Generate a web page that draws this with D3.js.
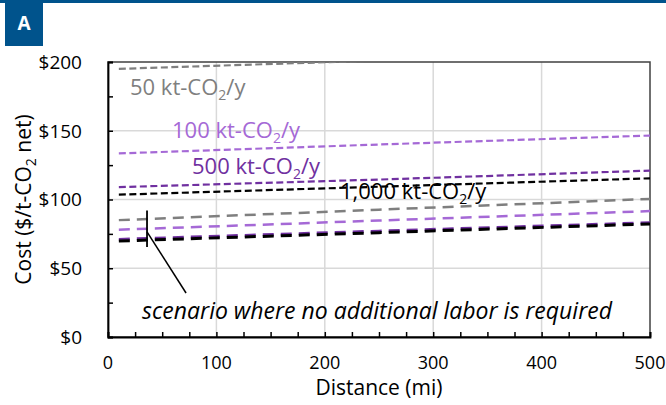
<!DOCTYPE html>
<html>
<head>
<meta charset="utf-8">
<script src="https://cdn.jsdelivr.net/npm/d3@7"></script>
<style>
  body { margin: 0; background: #fff; }
  text { font-family: "Open Sans", sans-serif; }
</style>
</head>
<body>
<script>
var distance = [10, 250, 500];

// cost ($/t-CO2 net), base case (upper group)
var base50 = [195, 201.1, 207.5];
var base100 = [133.5, 140, 146.5];
var base500 = [109, 114.5, 121];
var base1000 = [103.5, 109.3, 115.4];

// cost when no additional labor is needed (lower group)
var noLabor50 = [85, 92.6, 100.4];
var noLabor100 = [78, 84.7, 91.6];
var noLabor500 = [71, 77, 83.1];
var noLabor1000 = [69.8, 75.9, 82.2];

var capacities = ["50", "100", "500", "1,000"];
var yTicks = [0, 50, 100, 150, 200];
var xTicks = [0, 100, 200, 300, 400, 500];

// annotation marker (mi, $)
var markerX = 36;
var markerSpan = [65.5, 92];
var leaderFrom = [36, 76.5];
var leaderTo = [72, 32];

var w = 666, h = 405;
var margin = {left: 108, right: 16, top: 62, bottom: 68};
var width = w - margin.left - margin.right;
var height = h - margin.top - margin.bottom;

var colors = {"50": "#7f7f7f", "100": "#a569d6", "500": "#7030a0", "1,000": "#000000"};

var svg = d3.select("body").append("svg")
    .attr("width", w)
    .attr("height", h);

// blue banner with the panel letter
svg.append("rect").attr("x", 0).attr("y", 0).attr("width", w).attr("height", 3).attr("fill", "#00538c");
svg.append("rect").attr("x", 5).attr("y", 0).attr("width", 38).attr("height", 46).attr("fill", "#00538c");
svg.append("text").attr("x", 24).attr("y", 29.5)
    .attr("text-anchor", "middle").attr("fill", "#fff")
    .style("font-size", "19px").style("font-weight", "bold")
    .text("A");

var g = svg.append("g").attr("transform", "translate(" + margin.left + "," + margin.top + ")");

var x = d3.scaleLinear().domain([0, 500]).range([0, width]);
var y = d3.scaleLinear().domain([0, 200]).range([height, 0]);

// gridlines
g.append("g").selectAll("line")
    .data([50, 100, 150])
    .enter().append("line")
    .attr("x1", 0).attr("x2", width)
    .attr("y1", d => y(d)).attr("y2", d => y(d))
    .attr("stroke", "#d9d9d9").attr("stroke-width", 1.5);
g.append("g").selectAll("line")
    .data([100, 200, 300, 400])
    .enter().append("line")
    .attr("y1", 0).attr("y2", height)
    .attr("x1", d => x(d)).attr("x2", d => x(d))
    .attr("stroke", "#d9d9d9").attr("stroke-width", 1.5);

// plot border (top / right)
g.append("rect").attr("width", width).attr("height", height)
    .attr("fill", "none").attr("stroke", "#404040").attr("stroke-width", 1.5);

g.append("defs").append("clipPath").attr("id", "plotClip")
    .append("rect").attr("width", width).attr("height", height);

var line = d3.line()
    .x((d, i) => x(distance[i]))
    .y(d => y(d));

var lines = g.append("g").attr("clip-path", "url(#plotClip)");

// lower group first, longer dashes
[[noLabor50, "50"], [noLabor100, "100"], [noLabor500, "500"], [noLabor1000, "1,000"]].forEach(function(s) {
    lines.append("path")
        .attr("d", line(s[0]))
        .attr("fill", "none")
        .attr("stroke", colors[s[1]])
        .attr("stroke-width", s[1] == "1,000" || s[1] == "500" ? 3 : 2.5)
        .attr("stroke-dasharray", "11,7");
});

[[base50, "50"], [base100, "100"], [base500, "500"], [base1000, "1,000"]].forEach(function(s) {
    lines.append("path")
        .attr("d", line(s[0]))
        .attr("fill", "none")
        .attr("stroke", colors[s[1]])
        .attr("stroke-width", 2.2)
        .attr("stroke-dasharray", "7,3.5");
});

// axes with inward ticks every 25
var yAxis = g.append("g")
    .call(d3.axisRight(y).tickValues(d3.range(0, 201, 25)).tickSize(5).tickFormat(""));
var xAxis = g.append("g").attr("transform", "translate(0," + height + ")")
    .call(d3.axisTop(x).tickValues(d3.range(0, 501, 25)).tickSize(5).tickFormat(""));
[yAxis, xAxis].forEach(function(a) {
    a.select(".domain").attr("stroke", "#000").attr("stroke-width", 1.8);
    a.selectAll(".tick line").attr("stroke", "#000").attr("stroke-width", 1.5);
});

// tick labels
g.append("g").selectAll("text")
    .data(yTicks)
    .enter().append("text")
    .attr("x", -26).attr("y", d => y(d))
    .attr("dy", "0.36em")
    .attr("text-anchor", "end")
    .style("font-size", "19px")
    .text(d => "$" + d);
g.append("g").selectAll("text")
    .data(xTicks)
    .enter().append("text")
    .attr("x", d => x(d)).attr("y", height + 32)
    .attr("text-anchor", "middle")
    .style("font-size", "18px")
    .text(d => d);

// axis titles
svg.append("text")
    .attr("x", margin.left + width / 2).attr("y", 395)
    .attr("text-anchor", "middle")
    .style("font-size", "21px")
    .text("Distance (mi)");

var yTitle = svg.append("text")
    .attr("transform", "translate(31," + (margin.top + height / 2) + ") rotate(-90)")
    .attr("text-anchor", "middle")
    .style("font-size", "21px");
yTitle.append("tspan").text("Cost ($/t-CO");
yTitle.append("tspan").attr("dy", 5).style("font-size", "14px").text("2");
yTitle.append("tspan").attr("dy", -5).text(" net)");

// series labels
var labelPos = {"50": [130, 95], "100": [172, 138], "500": [192, 174], "1,000": [340, 199]};
capacities.forEach(function(c) {
    var t = svg.append("text")
        .attr("x", labelPos[c][0]).attr("y", labelPos[c][1])
        .attr("fill", colors[c])
        .style("font-size", "22px");
    t.append("tspan").text(c + " kt-CO");
    t.append("tspan").attr("dy", 5).style("font-size", "14px").text("2");
    t.append("tspan").attr("dy", -5).text("/y");
});

// annotation for the no-extra-labor scenario
g.append("line")
    .attr("x1", x(markerX)).attr("x2", x(markerX))
    .attr("y1", y(markerSpan[0])).attr("y2", y(markerSpan[1]))
    .attr("stroke", "#000").attr("stroke-width", 1.8);
g.append("line")
    .attr("x1", x(leaderFrom[0])).attr("y1", y(leaderFrom[1]))
    .attr("x2", x(leaderTo[0])).attr("y2", y(leaderTo[1]))
    .attr("stroke", "#000").attr("stroke-width", 1.5);
svg.append("text")
    .attr("x", 142).attr("y", 319)
    .style("font-size", "23px").style("font-style", "italic")
    .text("scenario where no additional labor is required");
</script>
</body>
</html>
